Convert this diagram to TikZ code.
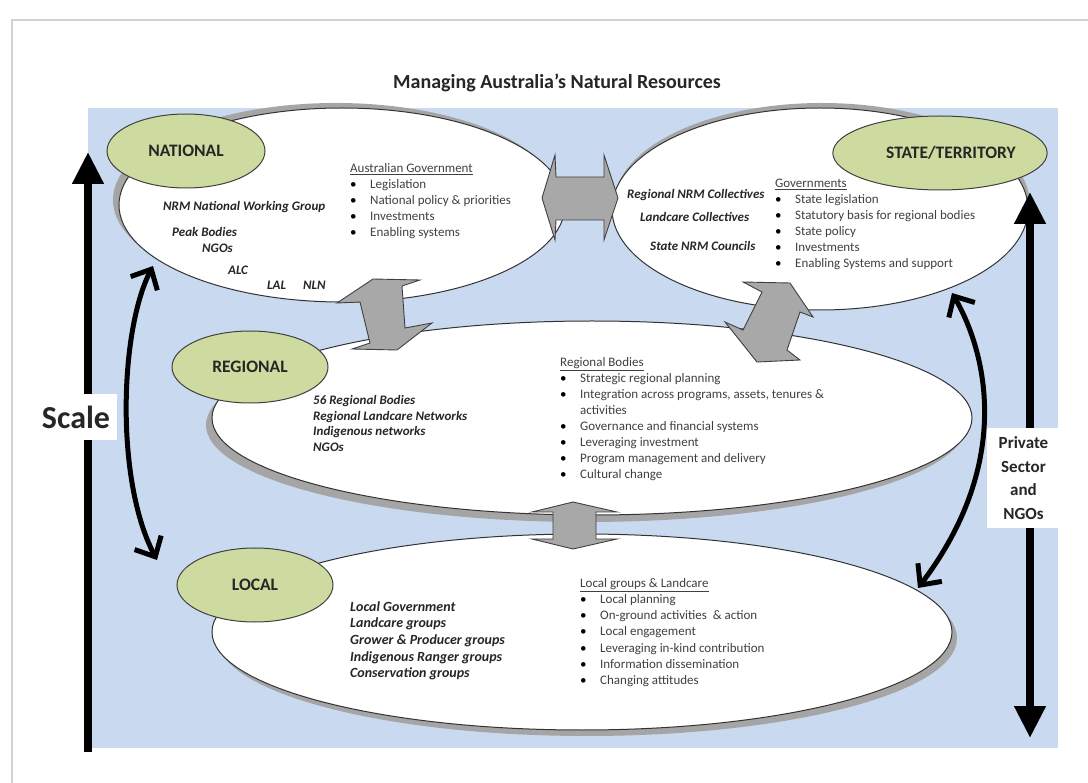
\documentclass[tikz,border=0pt]{standalone}
\usepackage{fontspec}
\setmainfont{Carlito}
\usetikzlibrary{shapes.geometric,arrows.meta}

\definecolor{bgblue}{RGB}{201,218,240}
\definecolor{levelgreen}{RGB}{206,219,160}
\definecolor{blockgrey}{RGB}{168,168,168}
\definecolor{shadowgrey}{RGB}{165,165,165}
\definecolor{bodytext}{RGB}{64,64,64}
\definecolor{labeltext}{RGB}{38,38,38}

\tikzset{
	bigoval/.style={ellipse, draw=black!80, line width=1pt, fill=white, inner sep=0pt},
	ovalshadow/.style={ellipse, fill=shadowgrey, inner sep=0pt},
	levelbox/.style={ellipse, draw=black!75, line width=1pt, fill=levelgreen, inner sep=0pt, font=\fontsize{17.5}{20}\selectfont\bfseries, text=labeltext},
	member/.style={inner sep=0pt, font=\fontsize{13}{15.7}\selectfont\bfseries\itshape, text=labeltext},
	rolelist/.style={anchor=north west, inner sep=0pt, align=left, font=\fontsize{13}{16}\selectfont, text=bodytext},
	blockarrow/.style={draw=black!75, line width=0.9pt, fill=blockgrey, line join=miter},
	linkarrow/.style={line width=5pt, {Straight Barb[length=16pt,width=30pt]}-{Straight Barb[length=16pt,width=30pt]}},
	scalearrow/.style={line width=7.5pt},
	sidelabel/.style={fill=white, inner sep=0pt, align=center, text=labeltext},
}
\newcommand{\bul}[1]{\makebox[20pt][l]{\textcolor{black}{\textbullet}}#1}

\begin{document}
\begin{tikzpicture}[x=1pt,y=-1pt]
	\useasboundingbox (0,0) rectangle (1088,783);
	\fill[white] (0,0) rectangle (1088,783);
	\draw[gray!35, line width=1.5pt] (12,783) -- (12,20) -- (1088,20);

	\node[font=\fontsize{20}{22}\selectfont\bfseries, text=labeltext] (title) at (557,83) {Managing Australia’s Natural Resources};

	\fill[bgblue] (88,108) rectangle (1058,748);

	\node[ovalshadow, minimum width=446pt, minimum height=194pt] (natshadow) at (336,200) {};
	\node[ovalshadow, minimum width=416pt, minimum height=202pt] (stashadow) at (822,204) {};
	\node[ovalshadow, minimum width=760pt, minimum height=194pt] (regshadow) at (586,425) {};
	\node[ovalshadow, minimum width=740pt, minimum height=196pt] (locshadow) at (587,638) {};

	\node[bigoval, minimum width=446pt, minimum height=194pt] (natoval) at (342,205) {};
	\node[bigoval, minimum width=416pt, minimum height=202pt] (staoval) at (820,209) {};
	\node[bigoval, minimum width=760pt, minimum height=194pt] (regoval) at (592,418) {};
	\node[bigoval, minimum width=740pt, minimum height=196pt] (locoval) at (582,632) {};

	\draw[blockarrow] (542,198) -- (555,155) -- (556,177) -- (604,177) -- (604,155) -- (618,198) -- (604,240) -- (604,220) -- (556,220) -- (555,240) -- cycle;
	\draw[blockarrow] (337,303) -- (373,279) -- (420,280) -- (402,286) -- (405,328) -- (432,323) -- (397,350) -- (352,349) -- (370,343) -- (360,302) -- cycle;
	\draw[blockarrow] (743,282) -- (790,283) -- (813,317) -- (800,312) -- (787,350) -- (800,360) -- (757,362) -- (725,322) -- (743,330) -- (762,292) -- cycle;
	\draw[blockarrow] (573,502) -- (617,512) -- (596,512) -- (596,539) -- (617,539) -- (573,549) -- (532,539) -- (553,539) -- (553,512) -- (532,512) -- cycle;

	\node[levelbox, minimum width=158pt, minimum height=74pt] (national) at (186,151) {NATIONAL};
	\node[levelbox, minimum width=192pt, minimum height=74pt] (state) at (940,153) {\hspace*{22pt}STATE/TERRITORY};
	\node[levelbox, minimum width=156pt, minimum height=72pt] (regional) at (250,367) {REGIONAL};
	\node[levelbox, minimum width=156pt, minimum height=74pt] (local) at (255,585) {LOCAL};

	\node[member, anchor=west] (nwg) at (163,207) {NRM National Working Group};
	\node[member, anchor=west] (peak) at (172,232) {Peak Bodies};
	\node[member, anchor=west] (ngonat) at (202,248) {NGOs};
	\node[member, anchor=west] (alc) at (228,270) {ALC};
	\node[member, anchor=west] (lal) at (267,285) {LAL};
	\node[member, anchor=west] (nln) at (303,285) {NLN};
	\node[rolelist] (natroles) at (350,163) {\underline{Australian Government}\\ \bul{Legislation}\\ \bul{National policy \& priorities}\\ \bul{Investments}\\ \bul{Enabling systems}};

	\node[member, anchor=west] (rnc) at (627,195) {Regional NRM Collectives};
	\node[member, anchor=west] (lcc) at (640,217) {Landcare Collectives};
	\node[member, anchor=west] (snc) at (650,246) {State NRM Councils};
	\node[rolelist] (staroles) at (775,179) {\underline{Governments}\\ \bul{State legislation}\\ \bul{Statutory basis for regional bodies}\\ \bul{State policy}\\ \bul{Investments}\\ \bul{Enabling Systems and support}};

	\node[member, anchor=north west, align=left] (regmembers) at (313,395) {56 Regional Bodies\\ Regional Landcare Networks\\ Indigenous networks\\ NGOs};
	\node[rolelist, font=\fontsize{13}{16.1}\selectfont] (regroles) at (560,357) {\underline{Regional Bodies}\\ \bul{Strategic regional planning}\\ \bul{Integration across programs, assets, tenures \&}\\ \hspace*{20pt}activities\\ \bul{Governance and financial systems}\\ \bul{Leveraging investment}\\ \bul{Program management and delivery}\\ \bul{Cultural change}};

	\node[member, anchor=north west, align=left, font=\fontsize{14}{16.7}\selectfont\bfseries\itshape] (locmembers) at (350,601) {Local Government\\ Landcare groups\\ Grower \& Producer groups\\ Indigenous Ranger groups\\ Conservation groups};
	\node[rolelist, font=\fontsize{13}{16.2}\selectfont] (locroles) at (580,578) {\underline{Local groups \& Landcare}\\ \bul{Local planning}\\ \bul{On-ground activities \ \& action}\\ \bul{Local engagement}\\ \bul{Leveraging in-kind contribution}\\ \bul{Information dissemination}\\ \bul{Changing attitudes}};

	\coordinate (natlink) at (153,266);
	\coordinate (loclinkL) at (157,560);
	\coordinate (stalink) at (952,293);
	\coordinate (loclinkR) at (918,588);
	\draw[linkarrow] (natlink) .. controls (120,330) and (115,480) .. (loclinkL);
	\draw[linkarrow] (stalink) .. controls (985,350) and (1015,460) .. (loclinkR);

	\coordinate (scalefoot) at (88,752);
	\coordinate (scaletip) at (88,152);
	\coordinate (privtop) at (1030,192);
	\coordinate (privfoot) at (1030,738);
	\draw[scalearrow, -{Triangle[length=32pt,width=30pt]}] (scalefoot) -- (scaletip);
	\draw[scalearrow, {Triangle[length=32pt,width=30pt]}-{Triangle[length=32pt,width=30pt]}] (privfoot) -- (privtop);

	\node[sidelabel, minimum width=82pt, minimum height=46pt, font=\fontsize{32}{34}\selectfont\bfseries] (scalelabel) at (76,417) {Scale};
	\node[sidelabel, minimum width=73pt, minimum height=100pt, font=\fontsize{17}{23.5}\selectfont\bfseries] (privlabel) at (1023.5,478) {Private\\Sector\\and\\NGOs};
\end{tikzpicture}
\end{document}
